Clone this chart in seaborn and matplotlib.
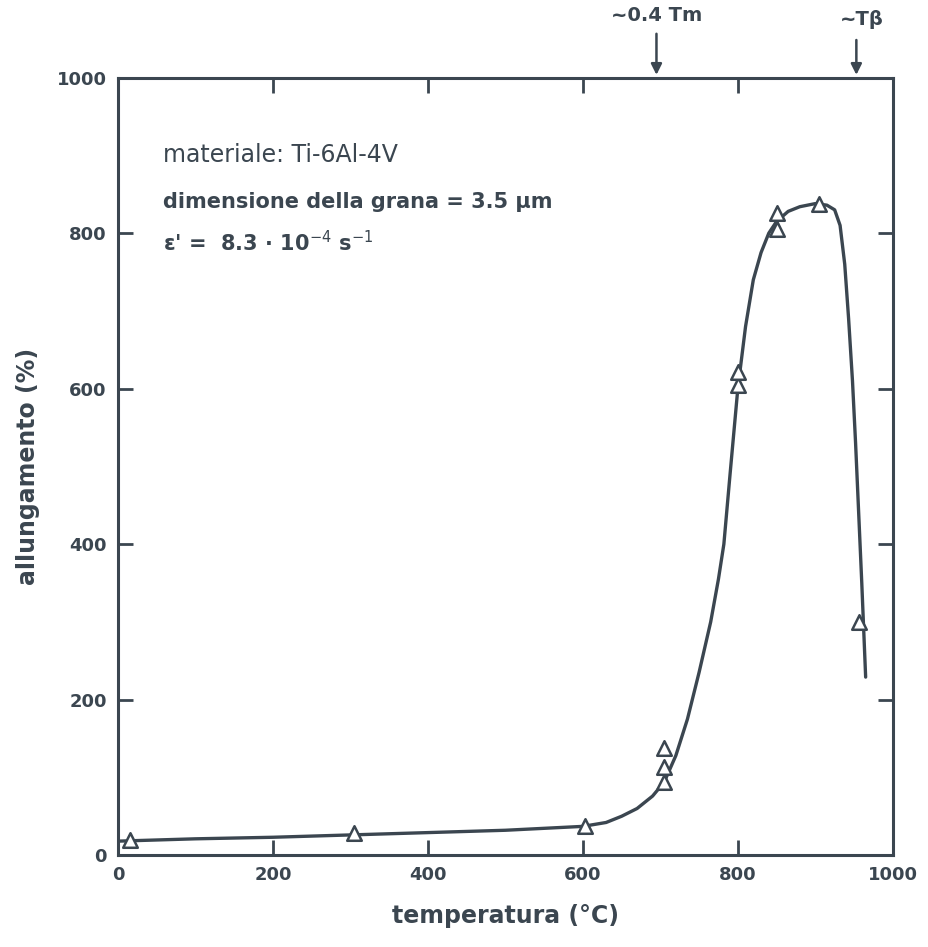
import pandas as pd
import matplotlib
matplotlib.use("Agg")
import matplotlib.pyplot as plt
import seaborn as sns

# punti sperimentali (triangoli)
temp_pts = [15, 305, 603, 705, 705, 705, 800, 800, 850, 850, 905, 957]
allung_pts = [20, 28, 37, 94, 114, 138, 605, 622, 805, 826, 838, 300]

# curva tracciata a mano
curve_t = [0, 100, 200, 300, 400, 500, 600, 630, 650, 670, 690, 705, 720, 735,
           750, 765, 775, 782, 790, 800, 810, 820, 830, 840, 850, 865, 880, 900,
           915, 925, 932, 938, 943, 948, 952, 956, 960, 965]
curve_e = [18, 21, 23, 26, 29, 32, 37, 42, 50, 60, 76, 94, 128, 175,
           235, 300, 355, 400, 490, 600, 680, 740, 775, 800, 815, 828, 834, 838,
           836, 830, 810, 760, 690, 610, 530, 440, 350, 229]

ticks = [0, 200, 400, 600, 800, 1000]
INK = "#3b4650"

pts = pd.DataFrame({"t": temp_pts, "e": allung_pts})
curve = pd.DataFrame({"t": curve_t, "e": curve_e})

sns.set_style("ticks")
plt.rcParams["font.family"] = ["DejaVu Sans"]

fig = plt.figure(figsize=(9.29, 9.47), dpi=100)
ax = fig.add_axes([0.127, 0.097, 0.834, 0.821])

sns.lineplot(data=curve, x="t", y="e", ax=ax, color=INK, linewidth=2.4, sort=False)
sns.scatterplot(data=pts, x="t", y="e", ax=ax, marker="^", s=110,
                facecolor="white", edgecolor=INK, linewidth=1.8, zorder=3)

ax.set_xlim(0, 1000)
ax.set_ylim(0, 1000)
ax.set_xticks(ticks)
ax.set_yticks(ticks)
ax.set_xticklabels([str(t) for t in ticks], fontsize=13, fontweight="bold", color=INK)
ax.set_yticklabels([str(t) for t in ticks], fontsize=13, fontweight="bold", color=INK)
ax.tick_params(direction="in", length=11, width=2, top=True, right=True,
               colors=INK, pad=8)
for s in ax.spines.values():
    s.set_visible(True)
    s.set_linewidth(2.2)
    s.set_color(INK)

ax.set_xlabel("temperatura (°C)", fontsize=17, fontweight="bold", color=INK, labelpad=14)
ax.set_ylabel("allungamento (%)", fontsize=17, fontweight="bold", color=INK, labelpad=12)

ax.text(58, 900, "materiale: Ti-6Al-4V", fontsize=17, color=INK, va="center")
ax.text(58, 840, "dimensione della grana = 3.5 µm", fontsize=15, fontweight="bold",
        color=INK, va="center")
ax.text(58, 788, "ε' =  8.3 · 10$^{-4}$ s$^{-1}$", fontsize=15, fontweight="bold",
        color=INK, va="center")

# frecce sopra il grafico
arrow = dict(arrowstyle="-|>", color=INK, lw=1.8, mutation_scale=16)
ax.annotate("", xy=(695, 1000), xytext=(695, 1060), annotation_clip=False,
            arrowprops=arrow)
ax.text(695, 1068, "~0.4 Tm", ha="center", va="bottom", fontsize=14,
        fontweight="bold", color=INK, clip_on=False)
ax.annotate("", xy=(953, 1000), xytext=(953, 1052), annotation_clip=False,
            arrowprops=arrow)
ax.text(960, 1062, "~Tβ", ha="center", va="bottom", fontsize=14,
        fontweight="bold", color=INK, clip_on=False)

plt.savefig("out.png", dpi=100)
plt.close()
